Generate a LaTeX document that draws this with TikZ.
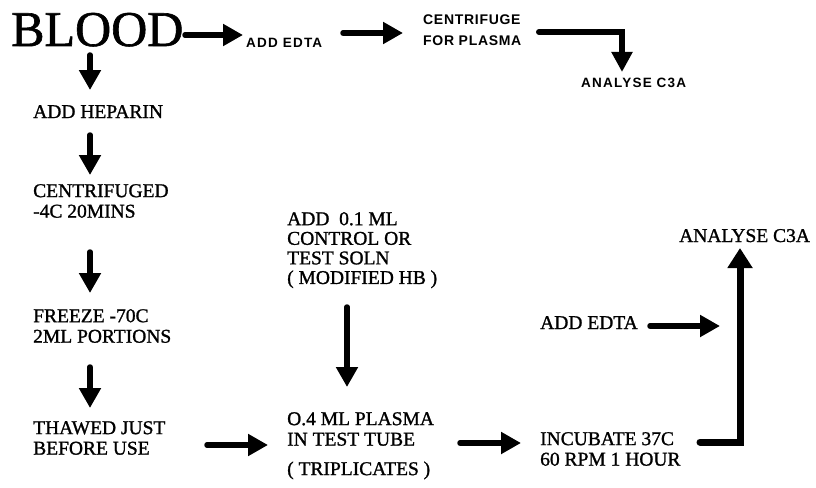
\documentclass[tikz,border=0pt]{standalone}
\usepackage{fontspec}
\setmainfont[FakeBold=1.2]{Liberation Serif}
\newfontfamily\smallsans[LetterSpace=9]{Liberation Sans}
\newfontfamily\midsans[LetterSpace=5]{Liberation Sans}
\usetikzlibrary{arrows.meta}
\begin{document}
\begin{tikzpicture}[x=1pt,y=-1pt,
  serif/.style={font=\fontsize{19.5}{20.5}\selectfont, inner sep=0pt, align=left},
  lbl/.style={serif, anchor=north west},
  smalllbl/.style={font=\smallsans\bfseries\fontsize{13.5}{14}\selectfont, inner sep=0pt, anchor=base west},
  midlbl/.style={font=\midsans\bfseries\fontsize{14}{20.5}\selectfont, inner sep=0pt, align=left, anchor=north west},
  arr/.style={line width=5.5pt, line cap=round, -{Triangle[width=21pt,length=20pt]}},
  arrb/.style={line width=7pt, line cap=round, line join=miter, -{Triangle[width=24pt,length=20pt]}},
  arrt/.style={line width=6pt, line cap=round, line join=miter, -{Triangle[width=20pt,length=20pt]}}]
\useasboundingbox (0,0) rectangle (816,487);
% texts
\node[font=\fontsize{50}{50}\selectfont, inner sep=0pt, anchor=base west] (blood) at (11,46) {BLOOD};
\node[smalllbl] (edtaA) at (246,48) {ADD EDTA};
\node[midlbl] (cent) at (423,15) {CENTRIFUGE\\FOR PLASMA};
\node[smalllbl] (anA) at (581,88) {ANALYSE C3A};
\node[serif, anchor=base west] (hep) at (33,118) {ADD HEPARIN};
\node[lbl] (cfg) at (33,184) {CENTRIFUGED\\-4C 20MINS};
\node[lbl] (frz) at (33,309) {FREEZE -70C\\2ML PORTIONS};
\node[lbl] (thw) at (33,421) {THAWED JUST\\BEFORE USE};
\node[lbl, font=\fontsize{19.5}{19.6}\selectfont] (addc) at (287,212) {ADD\ \ 0.1 ML\\CONTROL OR\\TEST SOLN\\( MODIFIED HB )};
\node[lbl] (pl) at (287,412) {O.4 ML PLASMA\\IN TEST TUBE\\[9pt]( TRIPLICATES )};
\node[lbl] (inc) at (540,432) {INCUBATE 37C\\60 RPM 1 HOUR};
\node[serif, anchor=base west] (edtaB) at (540,329) {ADD EDTA};
\node[serif, anchor=base west] (anB) at (679,242) {ANALYSE C3A};
% connector end points
\coordinate (t1a) at (185,35);  \coordinate (t1b) at (243,35);
\coordinate (t2a) at (343,33);  \coordinate (t2b) at (403,33);
\coordinate (t3a) at (539,32);  \coordinate (t3m) at (622,32); \coordinate (t3b) at (622,72);
\coordinate (l1a) at (90,55);   \coordinate (l1b) at (90,90);
\coordinate (l2a) at (90,135);  \coordinate (l2b) at (90,175);
\coordinate (l3a) at (90,252);  \coordinate (l3b) at (90,293);
\coordinate (l4a) at (90,367);  \coordinate (l4b) at (90,408);
\coordinate (h1a) at (207,445); \coordinate (h1b) at (268,445);
\coordinate (v1a) at (347,307); \coordinate (v1b) at (347,387);
\coordinate (h2a) at (460,443); \coordinate (h2b) at (521,443);
\coordinate (h3a) at (650,326); \coordinate (h3b) at (720,326);
\coordinate (ba) at (700,442);  \coordinate (bm) at (740,442); \coordinate (bb) at (740,248);
% connectors
\draw[arr] (t1a) -- (t1b);
\draw[arr] (t2a) -- (t2b);
\draw[arrt] (t3a) -- (t3m) -- (t3b);
\draw[arr] (l1a) -- (l1b);
\draw[arr] (l2a) -- (l2b);
\draw[arr] (l3a) -- (l3b);
\draw[arr] (l4a) -- (l4b);
\draw[arr] (h1a) -- (h1b);
\draw[arr] (v1a) -- (v1b);
\draw[arr] (h2a) -- (h2b);
\draw[arr] (h3a) -- (h3b);
\draw[arrb] (ba) -- (bm) -- (bb);
\end{tikzpicture}
\end{document}
